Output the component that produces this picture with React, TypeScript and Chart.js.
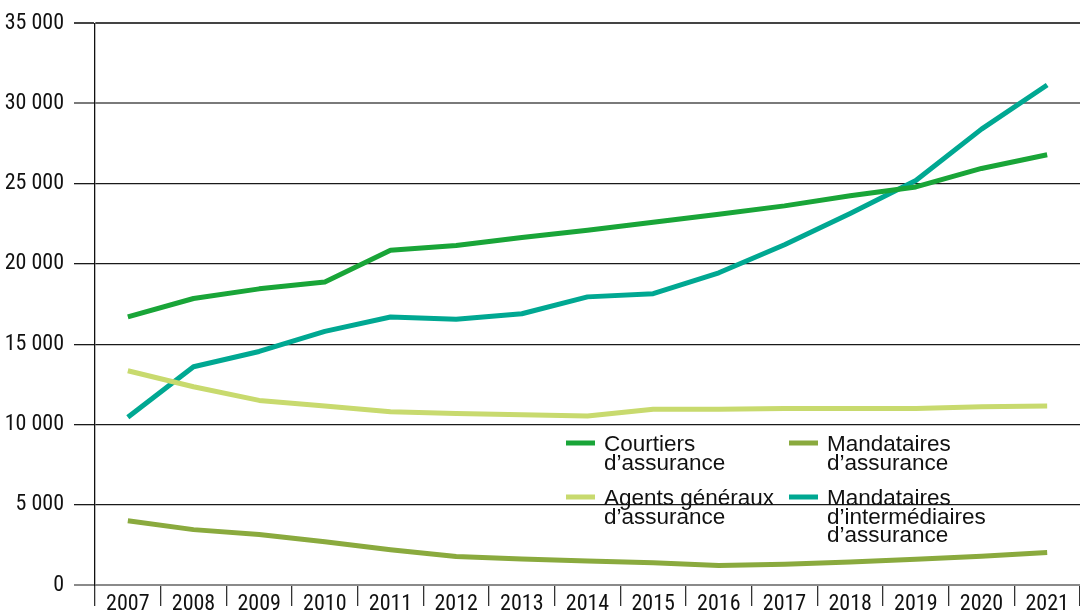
import { useEffect, useRef } from 'react';
import { Chart, registerables } from 'chart.js';

Chart.register(...registerables);

const years = ['2007', '2008', '2009', '2010', '2011', '2012', '2013', '2014', '2015', '2016', '2017', '2018', '2019', '2020', '2021'];
const courtiers = [16700, 17850, 18450, 18880, 20850, 21150, 21650, 22100, 22600, 23100, 23620, 24250, 24800, 25950, 26800];
const mandatairesIntermediaires = [10450, 13600, 14550, 15800, 16700, 16550, 16900, 17950, 18150, 19450, 21200, 23150, 25200, 28400, 31150];
const agentsGeneraux = [13350, 12350, 11500, 11150, 10800, 10680, 10600, 10530, 10950, 10950, 11000, 11000, 11000, 11100, 11150];
const mandataires = [4000, 3450, 3150, 2700, 2200, 1770, 1620, 1500, 1390, 1220, 1300, 1430, 1600, 1790, 2020];
const yTicks = [0, 5000, 10000, 15000, 20000, 25000, 30000, 35000];

const legendItems = [
  { lines: ['Courtiers', 'd\u2019assurance'], color: '#19a538', col: 0, row: 0 },
  { lines: ['Mandataires', 'd\u2019assurance'], color: '#8aaa3e', col: 1, row: 0 },
  { lines: ['Agents g\u00e9n\u00e9raux', 'd\u2019assurance'], color: '#c8da6e', col: 0, row: 1 },
  { lines: ['Mandataires', 'd\u2019interm\u00e9diaires', 'd\u2019assurance'], color: '#00a892', col: 1, row: 1 },
];

const tickFont = "'Liberation Sans Narrow', 'Roboto Condensed', Roboto, sans-serif";

const legendPlugin = {
  id: 'customLegend',
  afterDraw(chart: any) {
    const ctx = chart.ctx;
    ctx.save();
    const colX = [566, 789];
    const rowY = [443, 497];
    ctx.font = "22.5px 'Liberation Sans', Arial, sans-serif";
    ctx.textBaseline = 'alphabetic';
    ctx.textAlign = 'left';
    for (const it of legendItems) {
      const x = colX[it.col];
      const y = rowY[it.row];
      ctx.fillStyle = it.color;
      ctx.fillRect(x, y - 2.5, 29, 5);
      ctx.fillStyle = '#111';
      it.lines.forEach((t, i) => {
        ctx.fillText(t, x + 38, y + 8 + i * 18.5);
      });
    }
    ctx.restore();
  },
};

export default function App() {
  const ref = useRef<HTMLCanvasElement | null>(null);
  useEffect(() => {
    if (!ref.current) return;
    const mk = (label: string, data: number[], color: string) => ({
      label,
      data,
      borderColor: color,
      backgroundColor: color,
      borderWidth: 5,
      pointRadius: 0,
      tension: 0,
      borderCapStyle: 'butt',
      borderJoinStyle: 'round',
    });
    const chart = new Chart(ref.current, {
      type: 'line',
      data: {
        labels: years,
        datasets: [
          mk('Agents généraux d’assurance', agentsGeneraux, '#c8da6e'),
          mk('Mandataires d’assurance', mandataires, '#8aaa3e'),
          mk('Courtiers d’assurance', courtiers, '#19a538'),
          mk('Mandataires d’intermédiaires d’assurance', mandatairesIntermediaires, '#00a892'),
        ] as any,
      },
      options: {
        animation: false,
        responsive: true,
        maintainAspectRatio: false,
        layout: { padding: { top: 23, right: 0, left: 0, bottom: 0 } },
        plugins: { legend: { display: false }, tooltip: { enabled: false }, title: { display: false } },
        scales: {
          x: {
            type: 'category',
            offset: true,
            afterFit: (s: any) => { s.height = 26; },
            grid: {
              offset: true,
              drawOnChartArea: false,
              drawTicks: true,
              tickLength: 21,
              color: '#333',
              lineWidth: 1.3,
            },
            border: { display: false },
            ticks: {
              font: { family: tickFont, size: 22 },
              color: '#111',
              padding: -15,
              maxRotation: 0,
              autoSkip: false,
            },
          },
          y: {
            min: 0,
            max: 35000,
            afterFit: (s: any) => { s.width = 95; },
            afterBuildTicks: (s: any) => { s.ticks = yTicks.map((v) => ({ value: v })); },
            grid: {
              drawTicks: true,
              tickLength: 21,
              color: (c: any) => {
                const v = c.tick ? c.tick.value : 0;
                if (v === 0) return '#8a8a8a';
                if (v === 30000) return '#7a7a7a';
                if (v === 35000) return '#444';
                return '#1a1a1a';
              },
              lineWidth: (c: any) => {
                const v = c.tick ? c.tick.value : 0;
                if (v === 0 || v === 30000 || v === 35000) return 2;
                return 1.3;
              },
            },
            border: { display: true, color: '#111', width: 1.3 },
            ticks: {
              font: { family: tickFont, size: 22 },
              color: '#111',
              padding: 10,
              callback: (v: any) => {
                const n = Number(v);
                if (n === 0) return '0';
                const th = Math.floor(n / 1000);
                return th + ' 000';
              },
            },
          },
        },
      } as any,
      plugins: [legendPlugin],
    });
    return () => chart.destroy();
  }, []);
  return (
    <div style={{ position: 'fixed', left: 0, top: 0, width: 1080, height: 611, background: '#fff' }}>
      <canvas ref={ref} />
    </div>
  );
}
